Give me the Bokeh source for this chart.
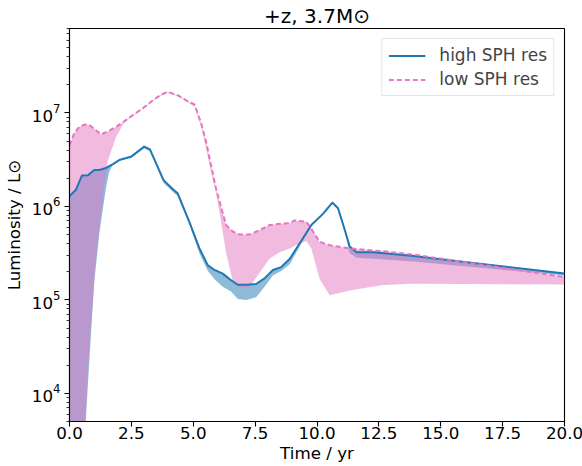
import numpy as np
from bokeh.plotting import figure
from bokeh.models import (Range1d, FixedTicker, PrintfTickFormatter, LogTickFormatter,
                          Legend, LegendItem, ColumnDataSource)
from bokeh.embed import file_html
from bokeh.resources import INLINE

# ---------------- data ----------------
# high SPH resolution: time (yr), luminosity (L_sun) and lower edge of its band
t_high = [0.0, 0.26, 0.5, 0.75, 1.0, 1.2, 1.34, 1.47, 1.6, 1.74, 2.04, 2.48, 3.02, 3.25,
          3.5, 3.8, 4.2, 4.37, 4.85, 5.25, 5.59, 5.86, 6.19, 6.53, 6.8, 7.14, 7.54, 7.88,
          8.22, 8.55, 8.9, 9.36, 9.77, 10.24, 10.62, 10.85, 11.12, 11.32, 11.6, 12.27,
          13.9, 20.0]
L_high = [1.29e6, 1.51e6, 2.14e6, 2.16e6, 2.45e6, 2.45e6, 2.51e6, 2.57e6, 2.69e6, 2.82e6,
          3.16e6, 3.39e6, 4.37e6, 4.07e6, 2.88e6, 1.91e6, 1.51e6, 1.38e6, 6.76e5, 3.55e5,
          2.34e5, 2.09e5, 1.91e5, 1.62e5, 1.45e5, 1.45e5, 1.48e5, 1.70e5, 2.09e5, 2.24e5,
          2.75e5, 4.27e5, 6.31e5, 8.32e5, 1.10e6, 9.55e5, 5.62e5, 3.72e5, 3.24e5, 3.24e5,
          2.95e5, 1.91e5]
L_high_lo = [1.0e3, 1.0e3, 1.0e3, 1.32e4, 1.55e5, 5.01e5, 9.12e5, 1.55e6, 2.34e6, 2.75e6,
             3.09e6, 3.31e6, 4.17e6, 3.89e6, 2.75e6, 1.78e6, 1.41e6, 1.29e6, 6.31e5, 3.16e5,
             2.04e5, 1.66e5, 1.38e5, 1.23e5, 1.02e5, 1.00e5, 1.07e5, 1.38e5, 1.82e5, 2.04e5,
             2.40e5, 3.98e5, 6.17e5, 8.13e5, 1.07e6, 9.33e5, 5.50e5, 3.16e5, 2.82e5, 2.75e5,
             2.57e5, 1.82e5]

# low SPH resolution
t_low = [0.0, 0.19, 0.39, 0.6, 0.8, 1.07, 1.27, 1.54, 1.88, 2.21, 2.55, 2.96, 3.36, 3.7,
         3.97, 4.37, 4.78, 5.05, 5.32, 5.52, 5.72, 5.92, 6.19, 6.33, 6.6, 6.87, 7.27, 7.68,
         8.08, 8.49, 8.9, 9.1, 9.57, 9.77, 10.11, 10.51, 11.32, 12.67, 13.9, 20.0]
L_low = [4.47e6, 6.03e6, 7.08e6, 7.50e6, 7.41e6, 6.53e6, 5.89e6, 6.31e6, 7.08e6, 8.13e6,
         9.44e6, 1.12e7, 1.36e7, 1.57e7, 1.68e7, 1.55e7, 1.33e7, 1.23e7, 7.76e6, 4.90e6,
         2.75e6, 1.55e6, 8.51e5, 6.31e5, 5.37e5, 5.01e5, 5.01e5, 5.56e5, 6.31e5, 6.53e5,
         6.61e5, 7.08e5, 6.84e5, 5.75e5, 4.17e5, 3.85e5, 3.55e5, 3.31e5, 3.05e5, 1.76e5]
L_low_lo = [1.0e3, 1.0e3, 1.0e3, 3.16e3, 3.16e4, 2.82e5, 8.51e5, 3.02e6, 5.50e6, 7.94e6,
            9.23e6, 1.10e7, 1.33e7, 1.53e7, 1.64e7, 1.51e7, 1.30e7, 1.17e7, 7.08e6, 4.17e6,
            2.34e6, 1.41e6, 5.37e5, 3.16e5, 1.58e5, 1.35e5, 1.38e5, 1.95e5, 2.75e5, 3.24e5,
            3.55e5, 3.80e5, 4.27e5, 3.55e5, 1.66e5, 1.12e5, 1.26e5, 1.44e5, 1.49e5, 1.46e5]

x_ticks = [0.0, 2.5, 5.0, 7.5, 10.0, 12.5, 15.0, 17.5, 20.0]
y_major = [1e4, 1e5, 1e6, 1e7]
y_minor = [k * 10.0 ** e for e in range(3, 8) for k in range(2, 10)]

series_labels = ["high SPH res", "low SPH res"]
title_text = "+z, 3.7M\u2299"
x_label = "Time / yr"
y_label = "Luminosity / L\u2299"

# ---------------- figure ----------------
FONT = "DejaVu Sans"
BLUE = "#1f77b4"
PINK = "#e377c2"

FL, FW, FH, FT = 67, 495, 393, 27

p = figure(frame_width=FW, frame_height=FH,
           min_border_left=FL, min_border_right=582 - FL - FW,
           min_border_top=FT, min_border_bottom=466 - FT - FH,
           x_range=Range1d(0, 20), y_range=Range1d(5e3, 8e7),
           y_axis_type="log", output_backend="svg", toolbar_location=None,
           title=title_text)
p.title.text_font = FONT
p.title.text_font_size = "20px"
p.title.text_font_style = "normal"
p.title.align = "center"
p.title.standoff = 2
p.title.text_color = "black"

p.background_fill_color = "white"
p.border_fill_color = "white"
p.xgrid.visible = False
p.ygrid.visible = False
p.outline_line_color = "black"
p.outline_line_width = 1.1
p.outline_line_alpha = 1.0

src_h = ColumnDataSource(dict(t=t_high, L=L_high, lo=L_high_lo))
src_l = ColumnDataSource(dict(t=t_low, L=L_low, lo=L_low_lo))

p.varea(x="t", y1="lo", y2="L", source=src_h, fill_color=BLUE, fill_alpha=0.5)
p.varea(x="t", y1="lo", y2="L", source=src_l, fill_color=PINK, fill_alpha=0.5)
r_h = p.line(x="t", y="L", source=src_h, line_color=BLUE, line_width=2)
r_l = p.line(x="t", y="L", source=src_l, line_color=PINK, line_width=2, line_dash="5 3")

# axes
for ax in (p.xaxis[0], p.yaxis[0]):
    ax.axis_line_color = "black"
    ax.axis_line_width = 1.1
    ax.major_tick_line_color = "black"
    ax.major_tick_line_width = 1.1
    ax.major_tick_in = 0
    ax.major_tick_out = 5
    ax.minor_tick_line_color = "black"
    ax.minor_tick_line_width = 0.8
    ax.minor_tick_in = 0
    ax.minor_tick_out = 3
    ax.major_label_text_font = FONT
    ax.major_label_text_font_size = "16.7px"
    ax.major_label_text_color = "black"
    ax.major_label_standoff = 4
    ax.axis_label_text_font = FONT
    ax.axis_label_text_font_size = "16.7px"
    ax.axis_label_text_font_style = "normal"
    ax.axis_label_text_color = "black"

p.xaxis.ticker = FixedTicker(ticks=x_ticks)
p.xaxis.formatter = PrintfTickFormatter(format="%.1f")
p.xaxis.minor_tick_line_color = None
p.xaxis.major_label_standoff = 0
p.xaxis.axis_label = x_label
p.xaxis.axis_label_standoff = 1
p.yaxis.ticker = FixedTicker(ticks=y_major, minor_ticks=y_minor)
p.yaxis.formatter = LogTickFormatter()
p.yaxis.axis_label = y_label
p.yaxis.axis_label_standoff = 5

# legend
legend = Legend(items=[LegendItem(label=series_labels[0], renderers=[r_h]),
                       LegendItem(label=series_labels[1], renderers=[r_l])],
                location="top_right")
legend.label_text_font = FONT
legend.label_text_font_size = "17px"
legend.glyph_width = 37
legend.glyph_height = 17
legend.label_height = 17
legend.label_standoff = 14
legend.padding = 6
legend.spacing = 4
legend.margin = 10
legend.border_line_color = "#cccccc"
legend.border_line_width = 1
legend.background_fill_alpha = 0.8
p.add_layout(legend)

open("out.html", "w").write(file_html(p, INLINE))
